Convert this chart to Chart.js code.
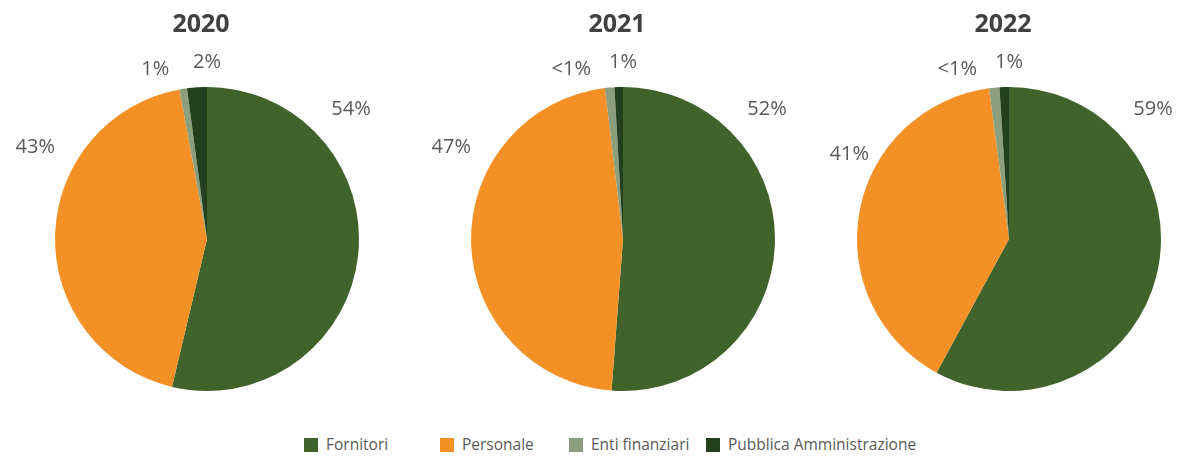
<!DOCTYPE html>
<html lang="it">
<head>
<meta charset="utf-8">
<script src="https://cdn.jsdelivr.net/npm/chart.js@4.4.1/dist/chart.umd.min.js"></script>
<style>
  html, body { margin: 0; padding: 0; background: #fff; }
  body { width: 1179px; height: 457px; position: relative; overflow: hidden;
         font-family: 'Open Sans', 'Noto Sans', sans-serif; }
  .pie { position: absolute; top: 0; width: 420px; height: 430px; }
  .title { position: absolute; top: 4px; width: 200px; text-align: center;
           font-size: 25px; font-weight: 700; color: #404040; line-height: 36px; }
  .legend-item { position: absolute; top: 434px; font-size: 15.5px; color: #595959;
                 line-height: 20px; white-space: nowrap; }
  .legend-item span { display: inline-block; width: 14px; height: 14px;
                      vertical-align: -2px; margin-right: 8px; }
</style>
</head>
<body>
<canvas id="pie2020" class="pie" width="420" height="430" style="left:-3px"></canvas>
<canvas id="pie2021" class="pie" width="420" height="430" style="left:413px"></canvas>
<canvas id="pie2022" class="pie" width="420" height="430" style="left:799px"></canvas>
<div id="titles"></div>
<div id="legend"></div>

<script>
  // ---- data (shares in %) ----
  var years          = ['2020', '2021', '2022'];
  var categories     = ['Fornitori', 'Personale', 'Enti finanziari', 'Pubblica Amministrazione'];
  var fornitori      = [53.7, 51.2, 57.9];
  var personale      = [43.4, 46.9, 40.0];
  var entiFinanziari = [0.8, 1.0, 1.1];
  var pubblicaAmm    = [2.1, 0.9, 1.0];
  // printed labels, per year, in category order
  var labelText = [
    ['54%', '43%', '1%', '2%'],
    ['52%', '47%', '<1%', '1%'],
    ['59%', '41%', '<1%', '1%']
  ];

  var colors = ['#41632b', '#f39026', '#8c9f7c', '#243f1e'];

  // label placement (Excel "best fit" look): angle clockwise from top, radius factor
  var labelAngle  = [48, 298, 343, 0];
  var labelRadius = [1.275, 1.28, 1.165, 1.16];
  var personaleRadius = [1.28, 1.28, 1.19];

  var canvasIds = ['pie2020', 'pie2021', 'pie2022'];
  var centers   = [207, 623, 1009];

  /** Draws the percent labels outside the pie */
  var outerLabels = {
    id: 'outerLabels',
    afterDatasetsDraw: function(chart, args, opts) {
      var ctx = chart.ctx;
      var arc = chart.getDatasetMeta(0).data[0];
      if (!arc) return;
      var cx = arc.x, cy = arc.y, r = arc.outerRadius;
      ctx.save();
      ctx.font = '20px "Open Sans", "Noto Sans", sans-serif';
      ctx.fillStyle = '#595959';
      ctx.textAlign = 'center';
      ctx.textBaseline = 'middle';
      opts.texts.forEach(function(t, i) {
        var a = labelAngle[i] * Math.PI / 180;
        var k = r * (i === 1 ? opts.personaleK : labelRadius[i]);
        ctx.fillText(t, cx + k * Math.sin(a), cy - k * Math.cos(a));
      });
      ctx.restore();
    }
  };

  years.forEach(function(y, i) {
    new Chart(document.getElementById(canvasIds[i]), {
      type: 'pie',
      plugins: [outerLabels],
      data: {
        labels: categories,
        datasets: [{
          data: [fornitori[i], personale[i], entiFinanziari[i], pubblicaAmm[i]],
          backgroundColor: colors,
          borderWidth: 0
        }]
      },
      options: {
        responsive: false,
        animation: false,
        layout: { padding: { left: 58, right: 58, top: 87, bottom: 39 } },
        plugins: {
          legend: { display: false },
          tooltip: { enabled: false },
          outerLabels: { texts: labelText[i], personaleK: personaleRadius[i] }
        }
      }
    });

    var t = document.createElement('div');
    t.className = 'title';
    t.style.left = (centers[i] - 6 - 100) + 'px';
    t.textContent = y;
    document.getElementById('titles').appendChild(t);
  });

  // legend
  var legendLeft = [304, 440, 569, 706];
  categories.forEach(function(c, i) {
    var d = document.createElement('div');
    d.className = 'legend-item';
    d.style.left = legendLeft[i] + 'px';
    d.innerHTML = '<span style="background:' + colors[i] + '"></span>';
    d.appendChild(document.createTextNode(c));
    document.getElementById('legend').appendChild(d);
  });
</script>
</body>
</html>
